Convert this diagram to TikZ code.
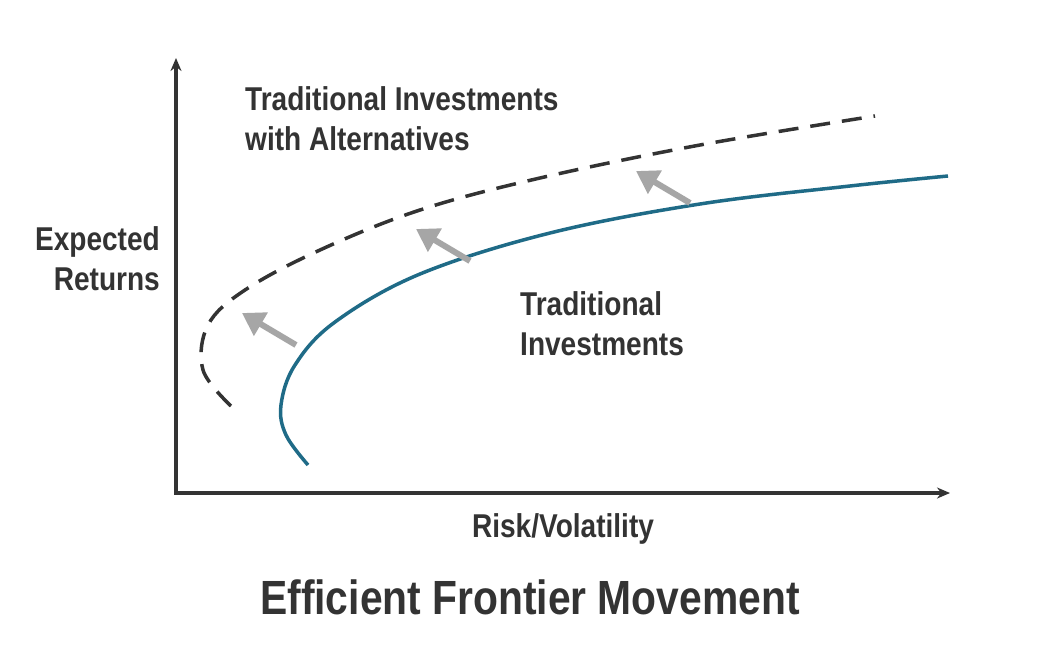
\documentclass[tikz,border=0pt]{standalone}
\usepackage{fontspec}
\setmainfont{Liberation Sans}[FakeStretch=0.85]
\usetikzlibrary{arrows.meta}
\definecolor{txt}{HTML}{333333}
\definecolor{teal}{HTML}{1F6B87}
\definecolor{arr}{HTML}{A6A6A6}
\begin{document}
\begin{tikzpicture}[x=1pt,y=-1pt,
  lbl/.style={font=\fontsize{33}{40}\selectfont\bfseries, text=txt, inner sep=0pt, align=left},
  movearrow/.style={draw=arr, line width=6pt, -{Triangle[length=22pt,width=26pt]}}]
\useasboundingbox[fill=white] (0,0) rectangle (1040,653);
\coordinate (o) at (176,493);
\coordinate (ytop) at (176,58);
\coordinate (xend) at (950,493);
\draw[txt, line width=3.5pt, -{Stealth[length=13pt,width=11pt]}] (176,494.75) -- (ytop);
\draw[txt, line width=3.5pt, -{Stealth[length=13pt,width=11pt]}] (174.25,493) -- (xend);
\draw[teal, line width=3.5pt] plot[smooth, tension=0.6] coordinates {(308,465) (286,435) (281,405) (295,365) (335,322) (420,274) (550,233) (700,204) (850,186) (948,176)};
\draw[txt, line width=3.5pt, dash pattern=on 20pt off 12pt] plot[smooth, tension=0.6] coordinates {(231,406) (203,370) (208,325) (245,290) (320,250) (420,210) (540,178) (700,145) (875,116)};
\coordinate (a1s) at (296,345); \coordinate (a1e) at (242,313);
\coordinate (a2s) at (470,261); \coordinate (a2e) at (416,229);
\coordinate (a3s) at (690,203); \coordinate (a3e) at (636,171);
\draw[movearrow] (a1s) -- (a1e);
\draw[movearrow] (a2s) -- (a2e);
\draw[movearrow] (a3s) -- (a3e);
\node[lbl, anchor=north west] (ta) at (245,86) {Traditional Investments\\with Alternatives};
\node[lbl, anchor=north east, align=right] (er) at (160,226) {Expected\\Returns};
\node[lbl, anchor=north west] (ti) at (520,291) {Traditional\\Investments};
\node[lbl, anchor=north] (rv) at (563,513) {Risk/Volatility};
\node[font=\fontsize{48}{56}\selectfont\bfseries, text=txt, inner sep=0pt, anchor=north] (title) at (530,580) {Efficient Frontier Movement};
\end{tikzpicture}
\end{document}
